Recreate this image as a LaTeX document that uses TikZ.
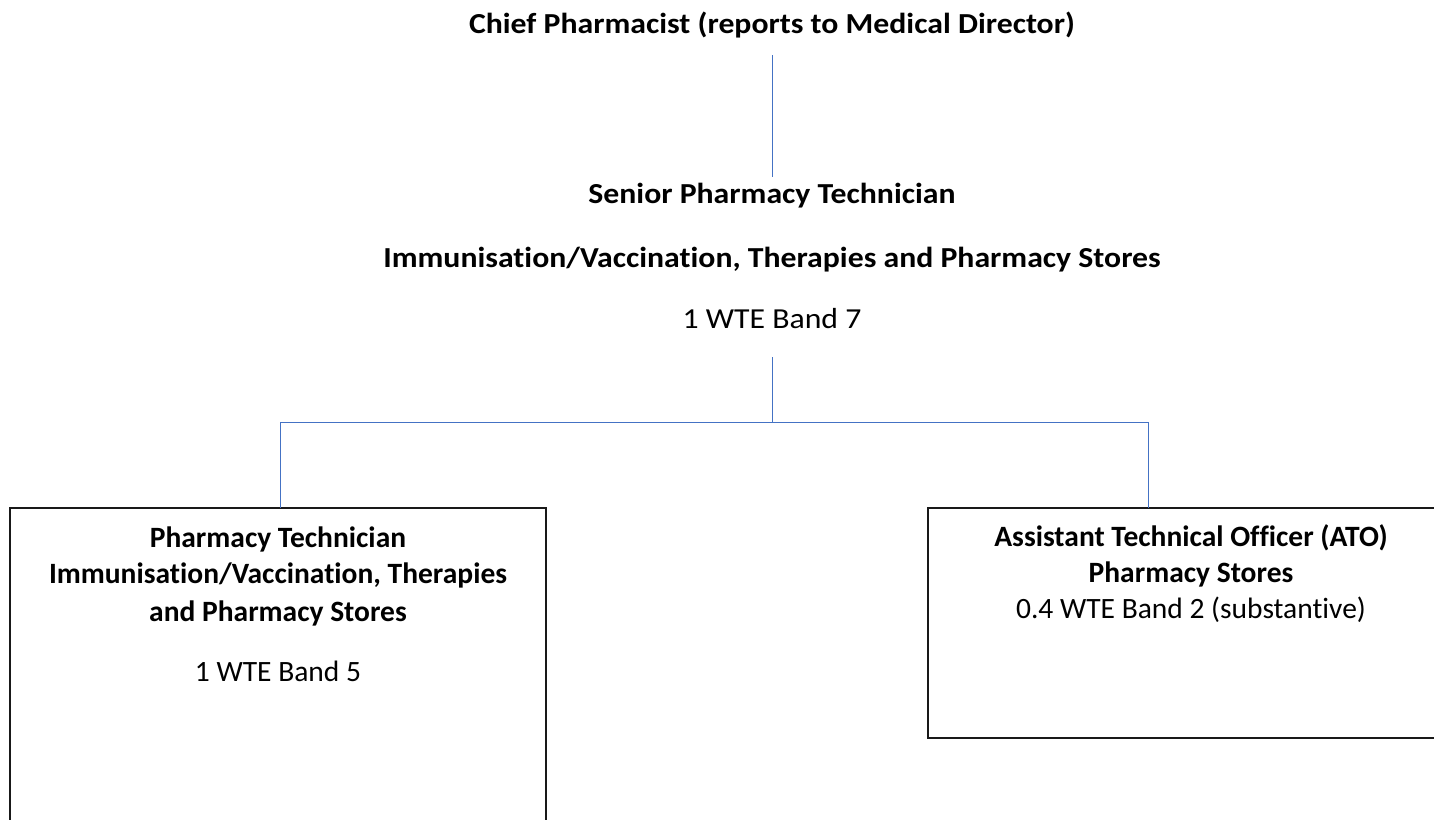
\documentclass[tikz,border=0pt]{standalone}
\usepackage{fontspec}
\setmainfont{Carlito}[Ligatures=NoCommon]
\newfontfamily\widefont{Carlito}[Ligatures=NoCommon, FakeStretch=1.095]
\definecolor{linkblue}{HTML}{4472C4}
\begin{document}
\begin{tikzpicture}[x=1pt,y=-1pt,
  every node/.style={font=\fontsize{29.5}{35}\selectfont, inner sep=0pt, outer sep=0pt, anchor=base},
  ttl/.style={font=\fontsize{29.5}{35}\selectfont\bfseries},
  topttl/.style={font=\widefont\fontsize{29}{35}\selectfont\bfseries},
  toptxt/.style={font=\widefont\fontsize{29}{35}\selectfont},
  conn/.style={draw=linkblue, line width=1pt},
  boxed/.style={draw=black!90, line width=1.2pt, rectangle}]
\useasboundingbox (0,0) rectangle (1434,819);
\clip (0,0) rectangle (1434,819);
% top of the chart
\node[topttl] (chief) at (772,33) {Chief Pharmacist (reports to Medical Director)};
\node[topttl] (senT) at (772,203) {Senior Pharmacy Technician};
\node[topttl] (senS) at (772,267) {Immunisation/Vaccination, Therapies and Pharmacy Stores};
\node[toptxt] (band7) at (772,328) {1 WTE Band 7};
\draw[conn, shorten <=22pt, shorten >=26pt] (chief.base) -- (senT.base);
\coordinate (bus) at (772,422);
\coordinate (busL) at (280,422);
\coordinate (busR) at (1148,422);
\draw[conn, shorten <=29pt] (band7.base) -- (bus);
\draw[conn] (busL) -- (busR);
% boxes
\node[boxed, anchor=north west, minimum width=536, minimum height=340] (ptbox) at (10,508) {};
\node[boxed, anchor=north west, minimum width=530, minimum height=230] (atobox) at (928,508) {};
\draw[conn] (busL) -- (busL |- ptbox.north);
\draw[conn] (busR) -- (busR |- atobox.north);
% left box text
\node[ttl] (pt1) at (278,547) {Pharmacy Technician};
\node[ttl] (pt2) at (278,583) {Immunisation/Vaccination, Therapies};
\node[ttl] (pt3) at (278,621) {and Pharmacy Stores};
\node (pt4) at (278,681) {1 WTE Band 5};
% right box text
\node[ttl] (ato1) at (1191,546) {Assistant Technical Officer (ATO)};
\node[ttl] (ato2) at (1191,582) {Pharmacy Stores};
\node (ato3) at (1191,618) {0.4 WTE Band 2 (substantive)};
\end{tikzpicture}
\end{document}
